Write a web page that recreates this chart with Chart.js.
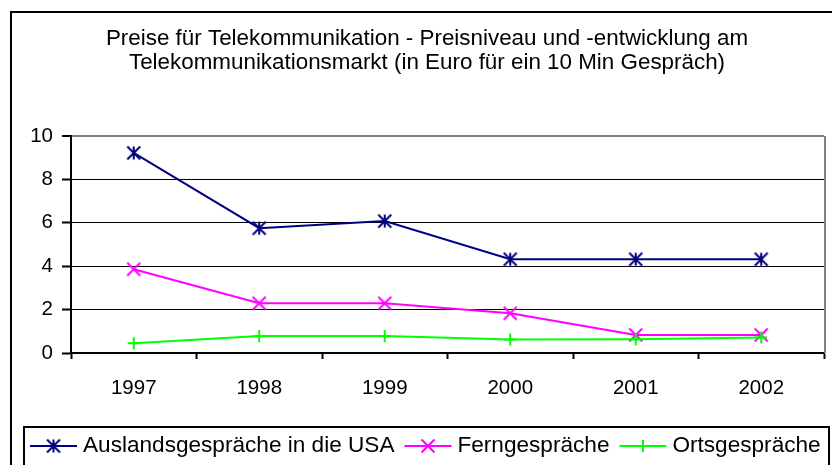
<!DOCTYPE html>
<html>
<head>
<meta charset="utf-8">
<script src="https://cdn.jsdelivr.net/npm/chart.js@4"></script>
<style>
  html, body { margin: 0; padding: 0; background: #fff; overflow: hidden; }
  #wrap { position: absolute; left: 0; top: 0; width: 832px; height: 465px; }
</style>
</head>
<body>
<div id="wrap"><canvas id="myChart" width="832" height="465"></canvas></div>
<script>
// Daten
const titleLines = [
  'Preise für Telekommunikation - Preisniveau und -entwicklung am',
  'Telekommunikationsmarkt (in Euro für ein 10 Min Gespräch)'
];
const years = ['1997', '1998', '1999', '2000', '2001', '2002'];
const auslandUSA = [9.22, 5.75, 6.08, 4.32, 4.32, 4.32];
const fern = [3.86, 2.29, 2.29, 1.83, 0.83, 0.83];
const orts = [0.45, 0.78, 0.78, 0.62, 0.63, 0.72];
const seriesNames = ['Auslandsgespräche in die USA', 'Ferngespräche', 'Ortsgespräche'];
const yTicks = [0, 2, 4, 6, 8, 10];

const FONT = '"Liberation Sans", Arial, sans-serif';

// Excel-artige Marker als kleine Canvas
function marker(kind, color) {
  var c = document.createElement('canvas');
  c.width = 16; c.height = 16;
  var g = c.getContext('2d');
  g.strokeStyle = color;
  g.lineWidth = 2;
  g.beginPath();
  if (kind === 'x' || kind === 'star') {
    g.moveTo(1.5, 1.5); g.lineTo(14.5, 14.5);
    g.moveTo(14.5, 1.5); g.lineTo(1.5, 14.5);
  }
  if (kind === 'star') {
    g.moveTo(8, 1.5); g.lineTo(8, 14.5);
  }
  if (kind === 'plus') {
    g.moveTo(8, 2); g.lineTo(8, 14);
    g.moveTo(2, 8); g.lineTo(14, 8);
  }
  g.stroke();
  return c;
}

const colors = ['#000080', '#FF00FF', '#00FF00'];
const markers = [marker('star', colors[0]), marker('x', colors[1]), marker('plus', colors[2])];

// Rahmen, Titel und Legende
const decor = {
  id: 'decor',
  afterDraw: function(chart) {
    var g = chart.ctx;
    var a = chart.chartArea;
    g.save();
    // Rahmen aussen
    g.strokeStyle = '#000';
    g.lineWidth = 2;
    g.strokeRect(11, 12, 1000, 1000);
    // rechter Rand der Zeichnungsfläche
    g.strokeStyle = '#808080';
    g.beginPath();
    g.moveTo(a.right + 1, a.top);
    g.lineTo(a.right + 1, a.bottom);
    g.stroke();
    // Titel
    g.fillStyle = '#000';
    g.font = '22.4px ' + FONT;
    g.textAlign = 'center';
    g.textBaseline = 'alphabetic';
    g.fillText(titleLines[0], 427, 45);
    g.fillText(titleLines[1], 427, 69);
    // Legende
    g.strokeStyle = '#000';
    g.lineWidth = 2;
    g.strokeRect(24, 427, 805, 200);
    g.font = '22.6px ' + FONT;
    g.textAlign = 'left';
    g.textBaseline = 'middle';
    var x = 30, y = 446;
    chart.data.datasets.forEach(function(ds, i) {
      g.strokeStyle = ds.borderColor;
      g.lineWidth = 2;
      g.beginPath();
      g.moveTo(x, y); g.lineTo(x + 47, y);
      g.stroke();
      g.drawImage(markers[i], x + 23.5 - 8, y - 8);
      x += 53;
      g.fillStyle = '#000';
      g.fillText(ds.label, x, y);
      x += g.measureText(ds.label).width + 10;
    });
    g.restore();
  }
};

const ctx = document.getElementById('myChart');

new Chart(ctx, {
  type: 'line',
  data: {
    labels: years,
    datasets: [
      { label: seriesNames[0], data: auslandUSA, borderColor: colors[0], pointStyle: markers[0], order: 2 },
      { label: seriesNames[1], data: fern, borderColor: colors[1], pointStyle: markers[1], order: 1 },
      { label: seriesNames[2], data: orts, borderColor: colors[2], pointStyle: markers[2], order: 0 }
    ]
  },
  options: {
    responsive: false,
    animation: false,
    devicePixelRatio: 1,
    layout: { padding: { left: 0, top: 136, right: 4, bottom: 62 } },
    elements: {
      line: { borderWidth: 2, tension: 0, fill: false },
      point: { radius: 7, hoverRadius: 7 }
    },
    plugins: {
      legend: { display: false },
      title: { display: false },
      tooltip: { enabled: false }
    },
    scales: {
      x: {
        offset: true,
        grid: { offset: true, drawOnChartArea: false, drawTicks: true, tickLength: 6, tickColor: '#000', tickWidth: 2 },
        border: { display: true, color: '#000', width: 2 },
        ticks: { color: '#000', font: { family: FONT, size: 20.5 }, padding: 17, maxRotation: 0 },
        afterFit: function(s) { s.height = 50; }
      },
      y: {
        min: 0,
        max: 10,
        afterBuildTicks: function(s) { s.ticks = yTicks.map(function(v) { return { value: v }; }); },
        grid: {
          color: function(c) { return c.tick && c.tick.value === 10 ? '#808080' : '#000'; },
          lineWidth: function(c) { return c.tick && c.tick.value === 10 ? 2 : 1; },
          tickLength: 9, tickColor: '#000', tickWidth: 2
        },
        border: { display: true, color: '#000', width: 2 },
        ticks: { color: '#000', font: { family: FONT, size: 20.5 }, padding: 9 },
        afterFit: function(s) { s.width = 71; }
      }
    }
  },
  plugins: [decor]
});
</script>
</body>
</html>
